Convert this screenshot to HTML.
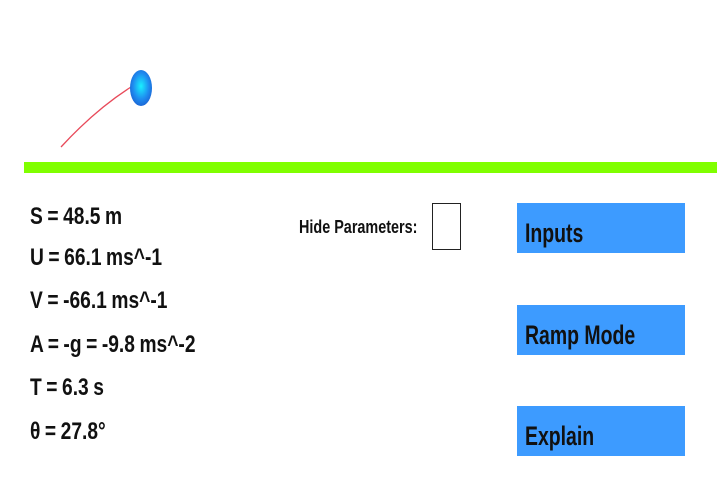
<!DOCTYPE html>
<html><head><style>
body{margin:0;width:717px;height:482px;background:#fff;position:relative;overflow:hidden;font-family:"Liberation Sans",sans-serif;font-weight:bold}
.t{position:absolute;white-space:nowrap;transform-origin:0 100%;transform:scaleX(0.74);line-height:1;color:#111}
.p{font-size:24px;left:30px;transform:scaleX(0.8);word-spacing:-1px}
.b{position:absolute;left:517px;width:168px;height:50px;background:#3d9bff}
.bt{font-size:27px;left:525px;transform:scaleX(0.72)}
</style></head><body>
<svg width="717" height="482" style="position:absolute;left:0;top:0">
<defs><radialGradient id="g" cx="0.5" cy="0.45" r="0.6"><stop offset="0" stop-color="#19f0ff"/><stop offset="0.6" stop-color="#1e8cf0"/><stop offset="1" stop-color="#1a5fd0"/></radialGradient></defs>
<path d="M61 147 Q95 110 131 87" stroke="#e84a5a" stroke-width="1.3" fill="none"/>
<ellipse cx="141" cy="88" rx="11" ry="18" fill="url(#g)"/>
<rect x="24" y="162" width="693" height="11" fill="#80ff00"/>
<rect x="432.5" y="203.5" width="28" height="46" fill="#fff" stroke="#222" stroke-width="1"/>
</svg>
<div class="t p" style="top:205px">S = 48.5 m</div>
<div class="t p" style="top:246px">U = 66.1 ms^-1</div>
<div class="t p" style="top:289px">V = -66.1 ms^-1</div>
<div class="t p" style="top:333px">A = -g = -9.8 ms^-2</div>
<div class="t p" style="top:376px">T = 6.3 s</div>
<div class="t p" style="top:420px">θ = 27.8°</div>
<div class="t" style="font-size:18px;left:299px;top:218px;transform:scaleX(0.8)">Hide Parameters:</div>
<div class="b" style="top:203px"></div>
<div class="b" style="top:305px"></div>
<div class="b" style="top:406px"></div>
<div class="t bt" style="top:220px">Inputs</div>
<div class="t bt" style="top:322px">Ramp Mode</div>
<div class="t bt" style="top:423px">Explain</div>
</body></html>
